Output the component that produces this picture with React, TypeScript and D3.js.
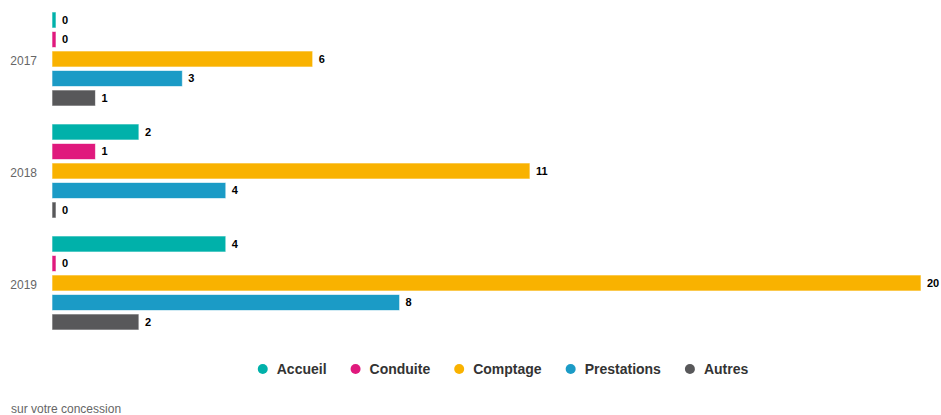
import { useEffect, useRef } from "react";
import * as d3 from "d3";

const years = ["2017", "2018", "2019"];
const seriesNames = ["Accueil", "Conduite", "Comptage", "Prestations", "Autres"];
const seriesColors = ["#00b1aa", "#e0197d", "#f9b200", "#1b9bc6", "#58585a"];
const accueil = [0, 2, 4];
const conduite = [0, 1, 0];
const comptage = [6, 11, 20];
const prestations = [3, 4, 8];
const autres = [1, 0, 2];
const seriesValues = [accueil, conduite, comptage, prestations, autres];

const font = "'Liberation Sans', Arial, Helvetica, sans-serif";

export default function App() {
  const svgRef = useRef<SVGSVGElement>(null);

  useEffect(() => {
    document.body.style.margin = "0";
    if (!svgRef.current) return;
    const W = 941;
    const H = 415;
    const svg = d3.select(svgRef.current);
    svg.selectAll("*").remove();
    svg.attr("width", W).attr("height", H).attr("viewBox", `0 0 ${W} ${H}`);

    const x = d3.scaleLinear().domain([0, 20]).range([52, 921]);
    const y0 = d3.scaleBand().domain(years).range([3, 339]);
    const y1 = d3
      .scaleBand()
      .domain(seriesNames)
      .range([9, y0.bandwidth() - 9])
      .paddingInner(0.18);

    // Year labels
    svg
      .append("g")
      .selectAll("text")
      .data(years)
      .join("text")
      .attr("x", 37)
      .attr("y", (d) => (y0(d) ?? 0) + y0.bandwidth() / 2 + 2)
      .attr("dy", "0.35em")
      .attr("text-anchor", "end")
      .attr("font-family", font)
      .attr("font-size", 12)
      .attr("fill", "#666")
      .text((d) => d);

    // Bars
    seriesNames.forEach((name, si) => {
      const g = svg.append("g");
      const rows = years.map((yr, i) => ({ yr, v: seriesValues[si][i] }));
      g.selectAll("rect")
        .data(rows)
        .join("rect")
        .attr("x", x(0))
        .attr("y", (d) => (y0(d.yr) ?? 0) + (y1(name) ?? 0))
        .attr("width", (d) => Math.max(4, x(d.v) - x(0)))
        .attr("height", y1.bandwidth())
        .attr("fill", seriesColors[si])
        .attr("stroke", "#ffffff")
        .attr("stroke-opacity", 0.6)
        .attr("stroke-width", 1);
      g.selectAll("text")
        .data(rows)
        .join("text")
        .attr("x", (d) => x(0) + Math.max(4, x(d.v) - x(0)) + 6)
        .attr("y", (d) => (y0(d.yr) ?? 0) + (y1(name) ?? 0) + y1.bandwidth() / 2)
        .attr("dy", "0.35em")
        .attr("font-family", font)
        .attr("font-size", 11)
        .attr("font-weight", "bold")
        .attr("fill", "#000")
        .text((d) => d.v);
    });

    // Legend
    const legend = svg.append("g");
    const items = legend
      .selectAll("g")
      .data(seriesNames)
      .join("g");
    items
      .append("circle")
      .attr("r", 5)
      .attr("cy", 0)
      .attr("fill", (_, i) => seriesColors[i]);
    items
      .append("text")
      .attr("x", 14)
      .attr("dy", "0.35em")
      .attr("font-family", font)
      .attr("font-size", 14)
      .attr("font-weight", "bold")
      .attr("fill", "#333")
      .text((d) => d);
    let cx = 0;
    items.each(function () {
      const t = d3.select(this).select("text").node() as SVGTextElement;
      const w = t.getComputedTextLength();
      d3.select(this).attr("transform", `translate(${cx},0)`);
      cx += 14 + w + 29;
    });
    const totalW = cx - 29 + 5;
    legend.attr("transform", `translate(${503 - totalW / 2 + 5},369)`);

    // Caption
    svg
      .append("text")
      .attr("x", 11)
      .attr("y", 413)
      .attr("font-family", font)
      .attr("font-size", 12)
      .attr("fill", "#666")
      .text("sur votre concession");
  }, []);

  return <svg ref={svgRef} style={{ display: "block" }} />;
}
